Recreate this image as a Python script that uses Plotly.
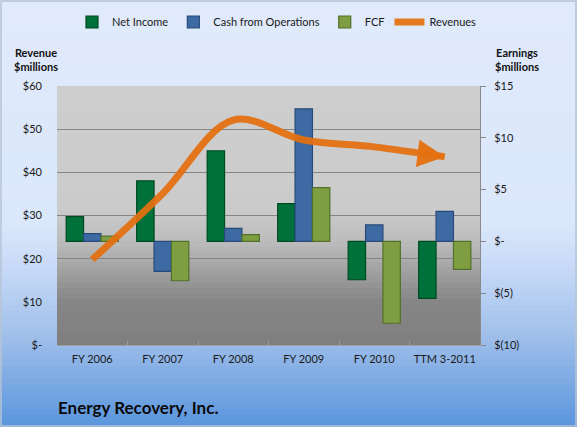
import plotly.graph_objects as go

# Energy Recovery, Inc. - revenues (left axis) vs earnings (right axis), $ millions
periods = ["FY 2006", "FY 2007", "FY 2008", "FY 2009", "FY 2010", "TTM 3-2011"]
revenues = [19.8, 35.1, 52.1, 47.5, 45.9, 43.6]
net_income = [2.4, 5.85, 8.75, 3.65, -3.7, -5.5]
cash_from_ops = [0.75, -2.9, 1.25, 12.8, 1.6, 2.9]
fcf = [0.5, -3.8, 0.65, 5.2, -7.9, -2.7]

rev_ticks = [0, 10, 20, 30, 40, 50, 60]
rev_labels = ["$-", "$10", "$20", "$30", "$40", "$50", "$60"]
earn_ticks = [-10, -5, 0, 5, 10, 15]
earn_labels = ["$(10)", "$(5)", "$-", "$5", "$10", "$15"]

W, H = 577, 427
L, R, T, B = 57, 97, 86, 82
PW, PH = W - L - R, H - T - B


def px_x(x):
    return (x - L) / PW


def px_y(y):
    return (H - B - y) / PH


def hex2rgb(c):
    c = c.lstrip("#")
    return [int(c[i:i + 2], 16) for i in (0, 2, 4)]


def gradient(stops, n):
    # stops: list of (fraction, hex colour); returns n colours top->bottom
    out = []
    for i in range(n):
        f = (i + 0.5) / n
        for (f0, c0), (f1, c1) in zip(stops, stops[1:]):
            if f0 <= f <= f1:
                t = (f - f0) / (f1 - f0) if f1 > f0 else 0
                a, b = hex2rgb(c0), hex2rgb(c1)
                rgb = [round(a[k] + (b[k] - a[k]) * t) for k in range(3)]
                out.append("rgb(%d,%d,%d)" % tuple(rgb))
                break
    return out


fig = go.Figure()

bar_style = [
    ("Net Income", net_income, "#00713a", "#004a22"),
    ("Cash from Operations", cash_from_ops, "#3d6aa3", "#274a78"),
    ("FCF", fcf, "#7f9e42", "#52702a"),
]
for name, vals, fill, edge in bar_style:
    fig.add_trace(go.Bar(
        x=periods, y=vals, name=name, yaxis="y",
        marker=dict(color=fill, line=dict(color=edge, width=1.2)),
    ))

fig.add_trace(go.Scatter(
    x=periods, y=revenues, name="Revenues", yaxis="y2", mode="lines",
    line=dict(color="#e5700f", width=7, shape="spline", smoothing=1.0),
    opacity=0.93,
))

shapes = []
# paper background gradient
n = 70
cols = gradient([(0, "#e0eafb"), (0.52, "#dbe7fb"), (0.63, "#c6d9f7"),
                 (0.78, "#a2c1ea"), (1, "#5a95dd")], n)
for i, c in enumerate(cols):
    y0 = H * i / n
    y1 = H * (i + 1) / n + 0.8
    shapes.append(dict(type="rect", xref="paper", yref="paper", layer="below",
                       x0=px_x(0), x1=px_x(W), y0=px_y(y1), y1=px_y(y0),
                       fillcolor=c, line=dict(width=0)))
# plot area gradient
n2 = 50
cols2 = gradient([(0, "#cecece"), (0.48, "#cbcbcb"), (0.6, "#bcbcbc"),
                  (0.83, "#868686"), (1, "#7f7f7f")], n2)
for i, c in enumerate(cols2):
    shapes.append(dict(type="rect", xref="x domain", yref="y domain", layer="below",
                       x0=0, x1=1, y0=1 - (i + 1) / n2 - 0.004, y1=1 - i / n2,
                       fillcolor=c, line=dict(width=0)))
# outer border
shapes.append(dict(type="rect", xref="paper", yref="paper", layer="above",
                   x0=px_x(1), x1=px_x(W - 1), y0=px_y(H - 1), y1=px_y(1),
                   line=dict(color="#b7c3d6", width=1.5)))

annotations = [
    dict(text="", x=periods[-1], y=revenues[-1], xref="x", yref="y2",
         showarrow=True, ax=-24, ay=-3, arrowhead=2, arrowsize=0.78, arrowwidth=7,
         arrowcolor="#e5700f", opacity=0.95),
    dict(text="<b>Revenue<br>$millions</b>", x=px_x(36), y=px_y(59), xref="paper", yref="paper",
         xanchor="center", yanchor="middle",
         showarrow=False, font=dict(size=11, color="#111111"), align="center"),
    dict(text="<b>Earnings<br>$millions</b>", x=px_x(517), y=px_y(59), xref="paper", yref="paper",
         xanchor="center", yanchor="middle",
         showarrow=False, font=dict(size=11, color="#111111"), align="center"),
    dict(text="<b>Energy Recovery, Inc.</b>", x=px_x(56), y=px_y(407), xref="paper", yref="paper",
         xanchor="left", yanchor="middle", showarrow=False,
         font=dict(size=17, color="#0a0a0a")),
]

fig.update_layout(
    width=W, height=H,
    margin=dict(l=L, r=R, t=T, b=B, autoexpand=False),
    paper_bgcolor="#dfe9fa",
    plot_bgcolor="rgba(0,0,0,0)",
    font=dict(family="Lato", size=11, color="#1a1a1a"),
    barmode="group", bargap=0.26, bargroupgap=0,
    shapes=shapes,
    annotations=annotations,
    legend=dict(orientation="h", x=px_x(72), y=px_y(22), xanchor="left", yanchor="middle",
                bgcolor="rgba(0,0,0,0)", font=dict(size=11), itemwidth=30,
                traceorder="normal"),
    xaxis=dict(showgrid=False, ticks="inside", tickson="boundaries", ticklen=4,
               tickcolor="#9a9a9a", showline=True, linecolor="#a0a0a0", linewidth=1,
               tickangle=0, ticklabelstandoff=4),
    yaxis=dict(side="right", range=[-10, 15], tickvals=earn_ticks, ticktext=earn_labels,
               showgrid=False, zeroline=False, ticks="outside", ticklen=5,
               tickcolor="#888888", showline=True, linecolor="#8a8a8a", linewidth=1,
               ticklabelstandoff=6),
    yaxis2=dict(overlaying="y", side="left", range=[0, 60], tickvals=rev_ticks,
                ticktext=rev_labels, showgrid=True, gridcolor="#858585", gridwidth=1,
                zeroline=False, ticks="", ticklabelstandoff=14),
)

fig.write_html("out.html", config={"displayModeBar": False},
               post_script="document.body.style.margin='0px';")
